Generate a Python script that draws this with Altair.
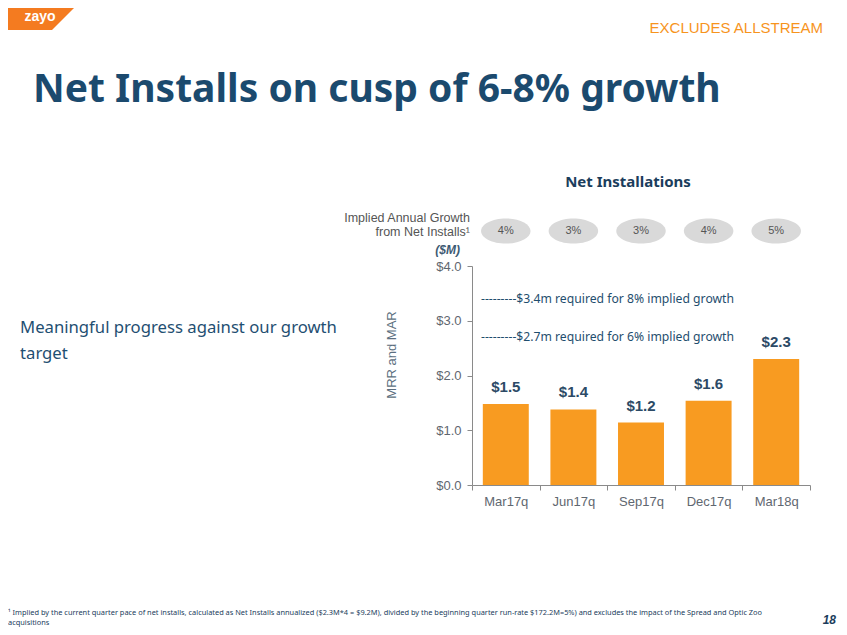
import altair as alt
import pandas as pd

quarters = ["Mar17q", "Jun17q", "Sep17q", "Dec17q", "Mar18q"]
net_installs = [1.48, 1.38, 1.14, 1.54, 2.30]
bar_labels = ["$1.5", "$1.4", "$1.2", "$1.6", "$2.3"]
implied_growth = ["4%", "3%", "3%", "4%", "5%"]

threshold_values = [3.4, 2.7]
threshold_labels = [
    "---------$3.4m required for 8% implied growth",
    "---------$2.7m required for 6% implied growth",
]

y_ticks = [0, 1, 2, 3, 4]

title_text = "Net Installs on cusp of 6-8% growth"
chart_title = "Net Installations"
side_text = ["Meaningful progress against our growth", "target"]
footnote = [
    "\u00b9 Implied by the current quarter pace of net installs, calculated as Net Installs annualized ($2.3M*4 = $9.2M), divided by the beginning quarter run-rate $172.2M=5%) and excludes the impact of the Spread and Optic Zoo",
    "acquisitions",
]

bars_df = pd.DataFrame({"q": quarters, "v": net_installs, "lab": bar_labels, "g": implied_growth})
thr_df = pd.DataFrame({"v": threshold_values, "lab": threshold_labels})
one = pd.DataFrame({"a": [0]})

NAVY = "#1b4a6e"
GRAY = "#5f6770"

xenc = alt.X("q:N", sort=quarters, title=None,
             scale=alt.Scale(paddingInner=0, paddingOuter=0),
             axis=alt.Axis(tickBand="extent", labelAngle=0, labelFont="Liberation Sans",
                           labelFontSize=13, labelColor=GRAY, labelPadding=5,
                           tickSize=5, domainColor="#8a8a8a", tickColor="#8a8a8a"))
yenc = alt.Y("v:Q", title=None, scale=alt.Scale(domain=[0, 4], nice=False),
             axis=alt.Axis(values=y_ticks, format="$.1f", grid=False, labelFont="Liberation Sans",
                           labelFontSize=13, labelColor=GRAY, labelPadding=6,
                           tickSize=5, domainColor="#8a8a8a", tickColor="#8a8a8a"))

bars = alt.Chart(bars_df).mark_bar(color="#f89b21", width={"band": 0.68}).encode(x=xenc, y=yenc)

bar_text = alt.Chart(bars_df).mark_text(font="Liberation Sans", fontWeight="bold", fontSize=15,
                                        color="#2c4a66", dy=-17, baseline="middle").encode(
    x=alt.X("q:N", sort=quarters), y="v:Q", text="lab:N")

ellipse_path = "M-1,0A1,0.51,0,1,1,1,0A1,0.51,0,1,1,-1,0Z"
ellipses = alt.Chart(bars_df).mark_point(shape=ellipse_path, size=2450, filled=True,
                                         color="#d9d9d9", opacity=1).encode(
    x=alt.X("q:N", sort=quarters), y=alt.value(-35))
ell_text = alt.Chart(bars_df).mark_text(font="Liberation Sans", fontSize=11, color="#555555",
                                        baseline="middle").encode(
    x=alt.X("q:N", sort=quarters), y=alt.value(-35), text="g:N")

thr_text = alt.Chart(thr_df).mark_text(font="Noto Sans", fontSize=12.2, color="#1f4e6e",
                                       align="left", baseline="middle").encode(
    x=alt.value(9), y=alt.Y("v:Q"), text="lab:N")


def txt(text, x, y, **kw):
    return alt.Chart(one).mark_text(**kw).encode(x=alt.value(x), y=alt.value(y), text=alt.value(text))


logo = alt.Chart(one).mark_point(shape="M0,0L66,0L44,22L0,22Z", size=4, filled=True,
                                 color="#f47b20", opacity=1).encode(x=alt.value(-464), y=alt.value(-258))

layers = [
    logo,
    txt("zayo", -432, -249, font="Liberation Sans", fontWeight="bold", fontSize=14, color="white",
        baseline="middle"),
    txt("EXCLUDES ALLSTREAM", 351, -238, font="Liberation Sans", fontSize=15, color="#f7941d",
        align="right", baseline="middle"),
    txt(title_text, -439, -164, font="Noto Sans", fontWeight="bold", fontSize=39, color=NAVY,
        align="left", baseline="alphabetic"),
    txt(chart_title, 156, -84, font="Noto Sans", fontWeight="bold", fontSize=15, color="#1b3d5c",
        align="center", baseline="middle"),
    txt("Implied Annual Growth", -2, -48, font="Liberation Sans", fontSize=12.5, color="#555555",
        align="right", baseline="middle"),
    txt("from Net Installs\u00b9", -2, -34, font="Liberation Sans", fontSize=12.5, color="#555555",
        align="right", baseline="middle"),
    txt("($M)", -12, -16, font="Liberation Sans", fontWeight="bold", fontStyle="italic", fontSize=12,
        color="#3d5a73", align="right", baseline="middle"),
    txt("MRR and MAR", -80, 89, font="Liberation Sans", fontSize=13, color="#5c6f80", angle=270,
        align="center", baseline="middle"),
    txt(side_text[0], -452, 62, font="Noto Sans", fontSize=16.7, color="#1f4f72", align="left",
        baseline="middle"),
    txt(side_text[1], -452, 88, font="Noto Sans", fontSize=16.7, color="#1f4f72", align="left",
        baseline="middle"),
    txt(footnote[0], -464, 347, font="Noto Sans", fontSize=7.4, color="#1b3d5c", align="left",
        baseline="middle"),
    txt(footnote[1], -464, 357, font="Noto Sans", fontSize=7.4, color="#1b3d5c", align="left",
        baseline="middle"),
    txt("18", 364, 354, font="Liberation Sans", fontWeight="bold", fontStyle="italic", fontSize=12,
        color="#1b3d5c", align="right", baseline="middle"),
    bars, bar_text, ellipses, ell_text, thr_text,
]

chart = alt.layer(*layers).properties(
    width=338, height=219,
    autosize=alt.AutoSizeParams(type="none"),
    padding={"left": 464, "top": 258, "right": 29, "bottom": 142},
).configure_view(stroke=None).configure_axis(labelFlush=False)

chart.save("out.html", embed_options={"renderer": "svg", "actions": False})
